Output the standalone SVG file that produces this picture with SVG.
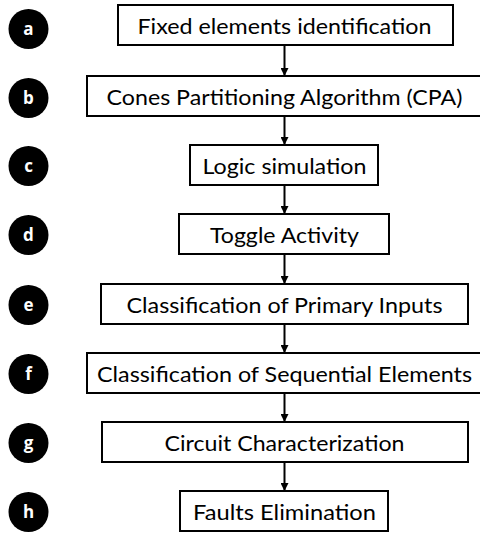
<svg xmlns="http://www.w3.org/2000/svg" width="480" height="534" viewBox="0 0 480 534">
<style>
.box{fill:#fff;stroke:#000;stroke-width:2}
.lbl{font-family:Lato,"Open Sans","Liberation Sans",sans-serif;font-size:22px;fill:#000;text-anchor:middle}
.dot{fill:#000}
.dl{font-family:"Open Sans","Liberation Sans",sans-serif;font-weight:bold;font-size:17px;fill:#fff;text-anchor:middle}
.con{stroke:#000;stroke-width:2;fill:none;marker-end:url(#ah)}
</style>
<defs>
<marker id="ah" viewBox="0 0 10 10" refX="10" refY="5" markerWidth="4" markerHeight="4" orient="auto" markerUnits="strokeWidth">
<path d="M0,0 L10,5 L0,10 z" fill="#000"/>
</marker>
</defs>
<rect width="480" height="534" fill="#fff"/>
<g id="connectors">
<line class="con" x1="284.5" y1="45" x2="284.5" y2="76"/>
<line class="con" x1="284.5" y1="116" x2="284.5" y2="145"/>
<line class="con" x1="284.5" y1="185" x2="284.5" y2="214"/>
<line class="con" x1="284.5" y1="254" x2="284.5" y2="284"/>
<line class="con" x1="284.5" y1="324" x2="284.5" y2="353"/>
<line class="con" x1="284.5" y1="393" x2="284.5" y2="422"/>
<line class="con" x1="284.5" y1="462" x2="284.5" y2="491"/>
</g>
<g id="a"><circle class="dot" cx="28.5" cy="29" r="20"/><text class="dl" x="28.5" y="35">a</text>
<rect class="box" x="118" y="5" width="335" height="40"/><text class="lbl" x="284.5" y="34" textLength="294" lengthAdjust="spacingAndGlyphs">Fixed elements identification</text></g>
<g id="b"><circle class="dot" cx="28.5" cy="98" r="20"/><text class="dl" x="28.5" y="104">b</text>
<rect class="box" x="87" y="76" width="395" height="40"/><text class="lbl" x="284.5" y="105" textLength="356" lengthAdjust="spacingAndGlyphs">Cones Partitioning Algorithm (CPA)</text></g>
<g id="c"><circle class="dot" cx="28.5" cy="166" r="20"/><text class="dl" x="28.5" y="172">c</text>
<rect class="box" x="190" y="145" width="188" height="40"/><text class="lbl" x="284.5" y="174" textLength="164" lengthAdjust="spacingAndGlyphs">Logic simulation</text></g>
<g id="d"><circle class="dot" cx="28.5" cy="235" r="20"/><text class="dl" x="28.5" y="241">d</text>
<rect class="box" x="179" y="214" width="210" height="40"/><text class="lbl" x="284.5" y="243" textLength="149" lengthAdjust="spacingAndGlyphs">Toggle Activity</text></g>
<g id="e"><circle class="dot" cx="28.5" cy="305" r="20"/><text class="dl" x="28.5" y="311">e</text>
<rect class="box" x="101" y="284" width="367" height="40"/><text class="lbl" x="284.5" y="313" textLength="316" lengthAdjust="spacingAndGlyphs">Classification of Primary Inputs</text></g>
<g id="f"><circle class="dot" cx="28.5" cy="374" r="20"/><text class="dl" x="28.5" y="380">f</text>
<rect class="box" x="87" y="353" width="395" height="40"/><text class="lbl" x="284.5" y="382" textLength="375" lengthAdjust="spacingAndGlyphs">Classification of Sequential Elements</text></g>
<g id="g"><circle class="dot" cx="28.5" cy="443" r="20"/><text class="dl" x="28.5" y="449">g</text>
<rect class="box" x="102" y="422" width="366" height="40"/><text class="lbl" x="284.5" y="451" textLength="240" lengthAdjust="spacingAndGlyphs">Circuit Characterization</text></g>
<g id="h"><circle class="dot" cx="28.5" cy="512" r="20"/><text class="dl" x="28.5" y="518">h</text>
<rect class="box" x="180" y="491" width="208" height="40"/><text class="lbl" x="284.5" y="520" textLength="183" lengthAdjust="spacingAndGlyphs">Faults Elimination</text></g>
</svg>
